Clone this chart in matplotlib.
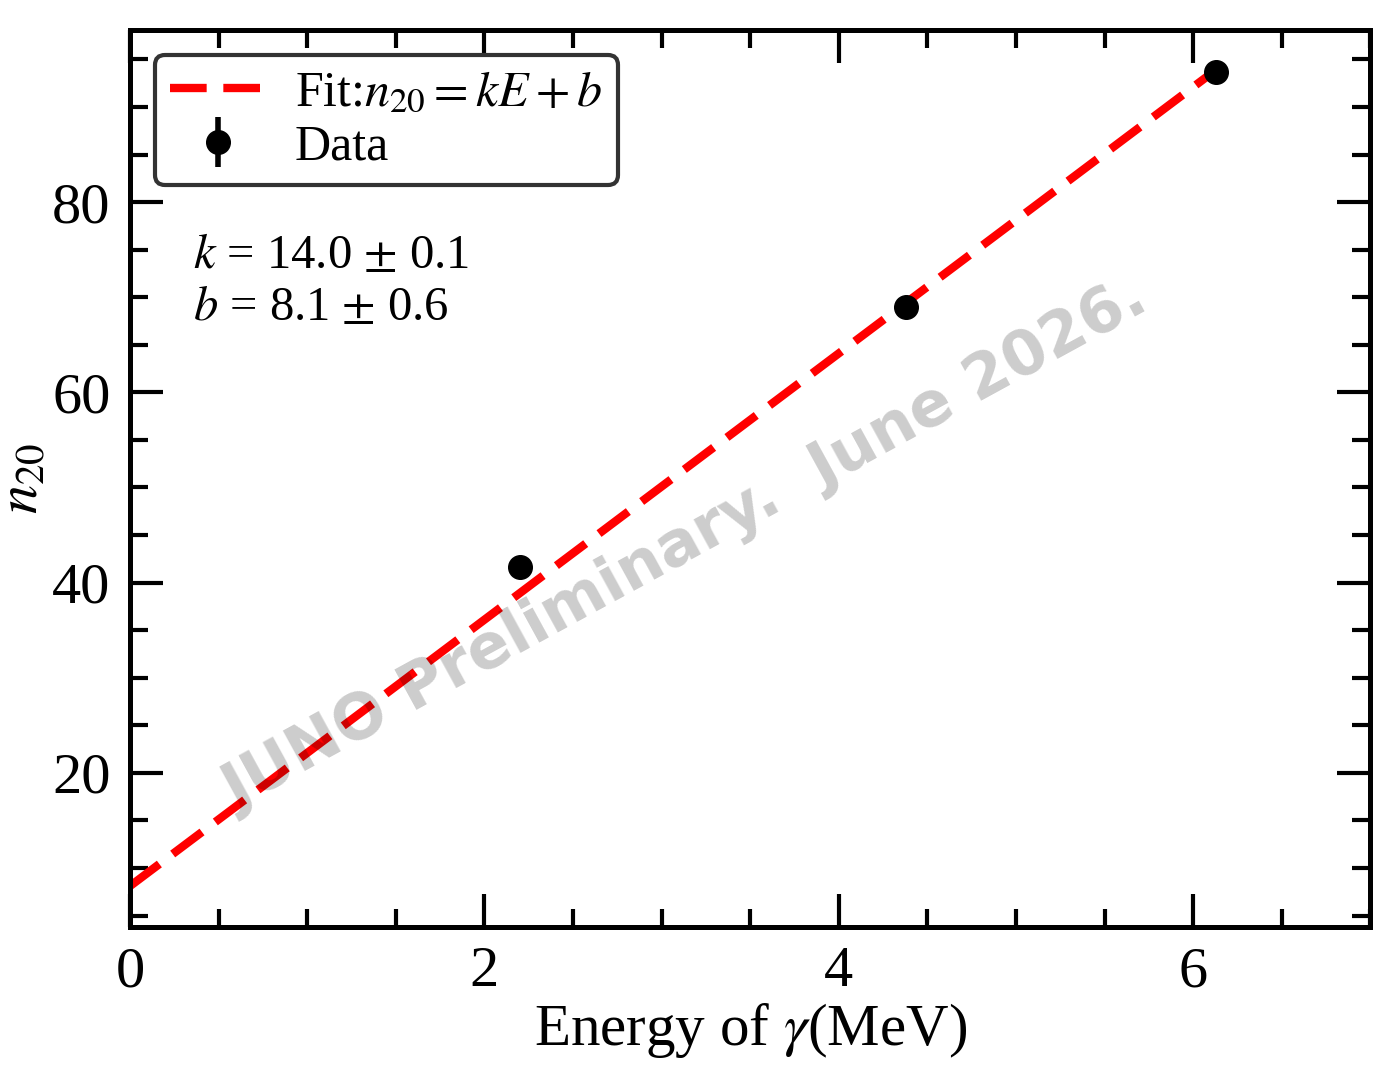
import matplotlib
matplotlib.use('Agg')
import matplotlib.pyplot as plt
import numpy as np

# data
energy = np.array([2.20, 4.38, 6.13])
n20 = np.array([41.6, 69.0, 93.7])
n20_err = np.array([0.5, 0.5, 0.5])
k, b = 14.0, 8.1
k_err, b_err = 0.1, 0.6

plt.rcParams['font.family'] = ['Liberation Serif', 'DejaVu Serif']
plt.rcParams['mathtext.fontset'] = 'stix'

fig = plt.figure(figsize=(13.94, 10.82), dpi=100)
ax = fig.add_axes([0.0933, 0.1433, 0.8897, 0.829])

xfit = np.linspace(0, energy.max(), 100)
ax.plot(xfit, k * xfit + b, color='red', lw=6, dashes=(4.4, 2.0),
        label=r'Fit:$n_{20}=kE+b$', zorder=2)
ax.errorbar(energy, n20, yerr=n20_err, fmt='o', color='black', ms=17,
            elinewidth=4, capsize=0, label='Data', zorder=3)

ax.text(0.051, 0.772, r'$k$ = 14.0 $\pm$ 0.1' + '\n' + r'$b$ = 8.1 $\pm$ 0.6',
        transform=ax.transAxes, fontsize=35, va='top', ha='left', linespacing=1.22)

# watermark
ax.text(0.448, 0.426, 'JUNO Preliminary.  June 2026.', transform=ax.transAxes,
        fontsize=45, fontweight='bold', family='DejaVu Sans', color='black',
        alpha=0.2, rotation=28.7, ha='center', va='center', zorder=5)

ax.set_xlim(0, 7)
ax.set_ylim(3.8, 98.1)
ax.set_xticks([0, 2, 4, 6])
ax.set_xticks(np.arange(0, 7.01, 0.5), minor=True)
ax.set_yticks([20, 40, 60, 80])
ax.set_yticks(np.arange(5, 98, 5), minor=True)

ax.tick_params(which='both', direction='in', top=True, right=True, labelsize=42, pad=14)
ax.tick_params(which='major', length=24, width=3)
ax.tick_params(which='minor', length=13, width=3)
for s in ax.spines.values():
    s.set_linewidth(3.6)

ax.set_xlabel(r'Energy of $\gamma$(MeV)', fontsize=42.5, labelpad=2)
ax.set_ylabel(r'$n_{20}$', fontsize=42, labelpad=2)

leg = ax.legend(loc='upper left', fontsize=36, framealpha=1, fancybox=True,
                handlelength=1.9, handletextpad=0.6, labelspacing=0.15,
                borderpad=0.3)
leg.get_frame().set_edgecolor('#333333')
leg.get_frame().set_linewidth(3)

fig.savefig('out.png', dpi=100)
